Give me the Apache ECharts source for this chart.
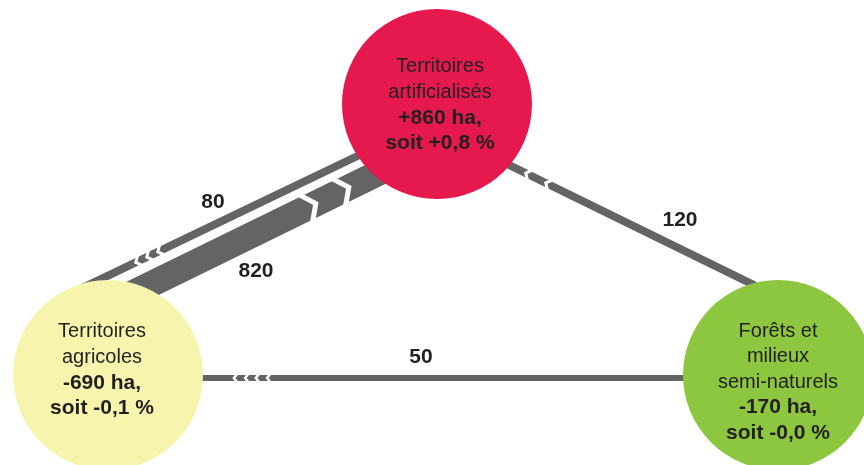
<!DOCTYPE html>
<html><head><meta charset="utf-8">
<script src="https://cdn.jsdelivr.net/npm/echarts@6/dist/echarts.min.js"></script>
<style>html,body{margin:0;padding:0;background:#fff}#c{width:864px;height:465px}</style>
</head><body><div id="c"></div>
<script>
// ---- data ----
const nodeNames = ['Territoires artificialisés', 'Territoires agricoles', 'Forêts et milieux semi-naturels'];
const nodeTitleLines = [['Territoires', 'artificialisés'], ['Territoires', 'agricoles'], ['Forêts et', 'milieux', 'semi-naturels']];
const nodeChangeHa = [860, -690, -170];
const nodeChangePct = ['+0,8', '-0,1', '-0,0'];
const flowSource = [0, 1, 2, 2];
const flowTarget = [1, 0, 0, 1];
const flowValues = [80, 820, 120, 50];

// ---- layout / style ----
const nodeLayout = [
  {x: 437, y: 104, r: 95, color: '#E6194F', dx: 3, dy: 1},
  {x: 108, y: 375, r: 95, color: '#F7F5AD', dx: -6, dy: -5},
  {x: 778, y: 375, r: 95, color: '#8DC63F', dx: 0, dy: 7}
];
const flowLayout = [
  {from: [370, 150], to: [80, 289.2], width: 8, gaps: [0.724, 0.762, 0.8], depth: 5, gapW: 3, label: [213, 202]},
  {from: [125, 297], to: [400, 162.3], width: 26, gaps: [0.676, 0.796], depth: 11, gapW: 5, label: [256, 271]},
  {from: [755, 285.5], to: [505, 163], width: 8, gaps: [0.828, 0.908], depth: 5, gapW: 3, label: [680, 220]},
  {from: [700, 378], to: [190, 378], width: 6, gaps: [0.845, 0.867, 0.888, 0.910], depth: 4, gapW: 2.5, label: [421, 357]}
];
const FONT = "'Liberation Sans', Arial, sans-serif";
const TXT = '#231F20';
const BAND = '#646466';

const chart = echarts.init(document.getElementById('c'), null, {renderer: 'canvas'});

function fmtHa(v) { return (v > 0 ? '+' : '') + v + ' ha,'; }

const nodeData = nodeNames.map((name, i) => {
  const L = nodeLayout[i];
  const lines = nodeTitleLines[i].map(s => '{n|' + s + '}');
  lines.push('{b|' + fmtHa(nodeChangeHa[i]) + '}');
  lines.push('{b|soit ' + nodeChangePct[i] + ' %}');
  return {
    name: name,
    value: [L.x, L.y],
    symbolSize: L.r * 2,
    itemStyle: {color: L.color, opacity: 1},
    label: {
      show: true, position: 'inside', offset: [L.dx, L.dy],
      formatter: lines.join('\n'),
      rich: {
        n: {fontSize: 20, lineHeight: 25.5, color: TXT, fontFamily: FONT, align: 'center'},
        b: {fontSize: 21, lineHeight: 25.5, color: TXT, fontFamily: FONT, fontWeight: 'bold', align: 'center'}
      }
    }
  };
});

const flowData = flowValues.map((v, i) => [flowSource[i], flowTarget[i], v]);

chart.setOption({
  animation: false,
  backgroundColor: '#fff',
  grid: {left: 0, right: 0, top: 0, bottom: 0},
  xAxis: {type: 'value', min: 0, max: 864, show: false},
  yAxis: {type: 'value', min: 0, max: 465, inverse: true, show: false},
  series: [
    {
      type: 'custom',
      coordinateSystem: 'cartesian2d',
      z: 1,
      data: flowData,
      encode: {x: -1, y: -1},
      renderItem: function (params, api) {
        const i = params.dataIndex;
        const L = flowLayout[i];
        const p0 = api.coord(L.from), p1 = api.coord(L.to);
        const dx = p1[0] - p0[0], dy = p1[1] - p0[1];
        const len = Math.hypot(dx, dy);
        const ux = dx / len, uy = dy / len, nx = -uy, ny = ux;
        const h = L.width / 2;
        const children = [{
          type: 'polygon',
          shape: {points: [
            [p0[0] + nx * h, p0[1] + ny * h], [p1[0] + nx * h, p1[1] + ny * h],
            [p1[0] - nx * h, p1[1] - ny * h], [p0[0] - nx * h, p0[1] - ny * h]
          ]},
          style: {fill: BAND}
        }];
        L.gaps.forEach(function (t) {
          const cx = p0[0] + dx * t, cy = p0[1] + dy * t;
          const a = L.depth / 2, e = h + 2;
          children.push({
            type: 'polyline',
            shape: {points: [
              [cx - ux * a + nx * e, cy - uy * a + ny * e],
              [cx + ux * a, cy + uy * a],
              [cx - ux * a - nx * e, cy - uy * a - ny * e]
            ]},
            style: {stroke: '#fff', lineWidth: L.gapW, fill: null, lineJoin: 'miter'}
          });
        });
        const lp = api.coord(L.label);
        children.push({
          type: 'text',
          style: {
            x: lp[0], y: lp[1], text: String(api.value(2)),
            font: 'bold 21px ' + FONT, fill: TXT,
            textAlign: 'center', textVerticalAlign: 'middle'
          }
        });
        return {type: 'group', children: children};
      }
    },
    {
      type: 'scatter',
      z: 3,
      symbol: 'circle',
      data: nodeData,
      emphasis: {disabled: true}
    }
  ]
});
</script>
</body></html>
